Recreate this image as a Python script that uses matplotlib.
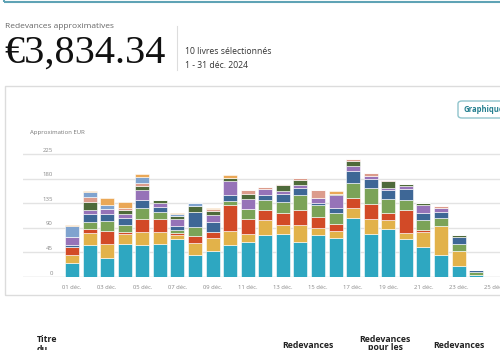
import matplotlib
matplotlib.use("Agg")
import matplotlib.pyplot as plt
import numpy as np
from matplotlib.patches import Rectangle, FancyBboxPatch
from matplotlib.transforms import blended_transform_factory

# Daily royalties (EUR) per book, 01-24 Dec
days = list(range(1, 25))
book1 = [26, 58, 35, 61, 58, 61, 70, 41, 47, 58, 64, 76, 79, 64, 76, 72, 108.5, 79, 87, 70, 55, 39.6, 19.5, 3]
book2 = [15, 22.5, 25, 17, 24, 21, 7.4, 21, 24.3, 25.5, 14, 29, 17, 30.5, 14, 12, 17.7, 27.7, 18, 10.5, 27.3, 53.7, 27.5, 0]
book3 = [13, 8, 24, 3.7, 23.5, 23.5, 3, 12.4, 11, 48.5, 27.5, 18, 21, 28.5, 19.8, 13.5, 18.8, 27.3, 12.7, 41.5, 3.1, 0, 0, 0]
book4 = [0, 12, 18, 12.8, 21.5, 13.5, 5, 17, 0, 7, 18.5, 18.5, 21, 26.4, 21.2, 20.2, 27, 29.4, 24.3, 18, 19.6, 15.2, 14, 6]
book5 = [5, 14, 13.5, 13.5, 14.5, 9, 7.3, 27.5, 18.3, 10.4, 0, 9.1, 13, 14, 4.4, 9.1, 21.3, 16.6, 16.5, 21.6, 12, 10.5, 12, 3.2]
book6 = [14, 7.5, 8, 8, 18.5, 8, 14, 0, 12.2, 26.2, 18, 9.8, 5.7, 5.6, 9.1, 22.6, 9.1, 4.8, 4.9, 4.4, 14, 8, 0, 0]
book7 = [0, 15, 0, 6, 6, 5.5, 4.3, 11, 7.2, 6.1, 10.4, 0, 11, 9, 0, 3, 9.8, 0, 12.2, 4.7, 4.4, 0, 4.4, 0]
book8 = [0, 9, 0, 5, 6.6, 0, 0, 0, 4, 0, 6.1, 4.2, 3, 3.7, 15.3, 0, 3, 5.2, 2.4, 0, 0, 3.5, 0, 0]
book9 = [21, 9.5, 9, 0, 10.4, 0, 3.6, 5.4, 0, 0, 0, 0, 0, 0, 0, 0, 0, 0, 0, 0, 0, 0, 0, 0]
book10 = [2, 2.5, 12, 10, 6, 0, 2.4, 0, 2, 4.3, 0, 0, 0, 0, 0, 5, 0, 0, 0, 0, 0, 0, 0, 0]

y_ticks = [0, 45, 90, 135, 180, 225]
x_ticks = list(range(1, 26, 2))
x_labels = [f"{d:02d} déc." for d in x_ticks]

series = [book1, book2, book3, book4, book5, book6, book7, book8, book9, book10]
colors = ["#2ea7c1", "#e2b24a", "#d24a27", "#7ba358", "#3e6796",
          "#9673b8", "#4e6a3a", "#dc9c8c", "#7fa3cf", "#eaa857"]

W, H = 500, 350
plt.rcParams['font.family'] = ['Open Sans', 'DejaVu Sans']

fig = plt.figure(figsize=(W / 100, H / 100), dpi=100)
fig.patch.set_facecolor("white")


def fx(x):
    return x / W


def fy(y):
    return 1 - y / H


# header
fig.patches.append(Rectangle((fx(4), fy(2)), fx(520), 0.05, transform=fig.transFigure,
                             fill=False, edgecolor="#5fa3b5", linewidth=1.5))
fig.text(fx(5), fy(27), "Redevances approximatives", fontsize=6, color="#666666", va="center")
fig.text(fx(4), fy(63), "€3,834.34", fontsize=29, color="#111111", va="baseline",
         family="Liberation Serif")
fig.lines.append(plt.Line2D([fx(177), fx(177)], [fy(26), fy(70)], transform=fig.transFigure,
                            color="#dddddd", linewidth=0.8))
fig.text(fx(185), fy(52), "10 livres sélectionnés", fontsize=6.2, color="#333333", va="center")
fig.text(fx(185), fy(66), "1 - 31 déc. 2024", fontsize=6.2, color="#333333", va="center")

# chart card
fig.patches.append(Rectangle((fx(5), fy(295)), fx(520), (295 - 86) / H, transform=fig.transFigure,
                             fill=False, edgecolor="#dcdcdc", linewidth=1.0))
fig.patches.append(FancyBboxPatch((fx(458), fy(118)), fx(60), 17 / H, transform=fig.transFigure,
                                  boxstyle="round,pad=0,rounding_size=0.008",
                                  facecolor="white", edgecolor="#8fc4cc", linewidth=1.0))
fig.text(fx(464), fy(109.5), "Graphique", fontsize=5.5, color="#237f8f", weight="bold", va="center")
fig.text(fx(30), fy(132), "Approximation EUR", fontsize=4.3, color="#777777", va="center")

# plot area: left at px 23, y=0 at px 277, 225 at px 154
ax_left, ax_bottom, ax_top = 23, 277, 145
day_px, day1_px = 17.57, 72
x_min = 1 - (day1_px - ax_left) / day_px
x_max = 1 + (W - day1_px) / day_px
unit_px = (277 - 154) / 225
ax = fig.add_axes([fx(ax_left), fy(ax_bottom), fx(W - ax_left), (ax_bottom - ax_top) / H])
ax.set_xlim(x_min, x_max)
ax.set_ylim(0, (ax_bottom - ax_top) / unit_px)

bottom = np.zeros(len(days))
for vals, c in zip(series, colors):
    ax.bar(days, vals, width=0.8, bottom=bottom, color=c, edgecolor="white", linewidth=0.4, zorder=3)
    bottom += np.array(vals)

for v in y_ticks:
    ax.axhline(v, color="#cfcfcf" if v == 0 else "#e3e3e3", linewidth=1.0, zorder=1)
trans = blended_transform_factory(ax.transAxes, ax.transData)
for v in y_ticks:
    ax.text((53 - ax_left) / (W - ax_left), v + 2.4 / unit_px, str(v), transform=trans,
            ha="right", va="baseline", fontsize=4.3, color="#888888")

ax.set_yticks([])
ax.set_xticks(x_ticks)
ax.set_xticklabels(x_labels, fontsize=4.2, color="#888888")
ax.tick_params(axis="x", length=0, pad=6)
for s in ax.spines.values():
    s.set_visible(False)

# table header
hdr = dict(fontsize=6.3, color="#222222", weight="bold")
fig.text(fx(37), fy(340), "Titre", va="center", **hdr)
fig.text(fx(37), fy(349), "du", va="center", **hdr)
fig.text(fx(282), fy(346), "Redevances", va="center", **hdr)
fig.text(fx(385), fy(339), "Redevances", va="center", ha="center", **hdr)
fig.text(fx(385), fy(347), "pour les", va="center", ha="center", **hdr)
fig.text(fx(433), fy(346), "Redevances", va="center", **hdr)

fig.savefig("out.png", dpi=100)
